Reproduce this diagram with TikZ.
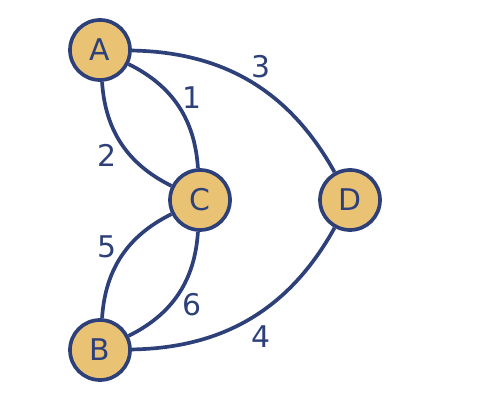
\documentclass[tikz,border=0pt]{standalone}
\usepackage{fontspec}
\setmainfont{DejaVu Sans}
\definecolor{bridgeblue}{RGB}{46,64,122}
\definecolor{landfill}{RGB}{233,195,115}
\tikzset{
  land/.style={circle, draw=bridgeblue, fill=landfill, line width=2.1pt,
    minimum size=1.2cm, inner sep=0pt, text=bridgeblue, font=\fontsize{17}{20}\selectfont},
  bridge/.style={draw=bridgeblue, line width=2.1pt},
  bridgelabel/.style={text=bridgeblue, font=\fontsize{17}{20}\selectfont}
}
\begin{document}
\begin{tikzpicture}
        \useasboundingbox (0,0) rectangle (10,8);
        \node[land] at (2,7) (a) {A};
        \node[land] at (4,4) (c) {C};
        \node[land] at (7,4) (d) {D};
        \node[land] at (2,1) (b) {B};

        \draw[bridge] (a) to[bend left=30] (c);
        \draw[bridge] (a) to[bend right=30] (c);
        \draw[bridge] (a) to[bend left=30] (d);
        \draw[bridge] (b) to[bend right=30] (d);
        \draw[bridge] (b) to[bend left=30] (c);
        \draw[bridge] (b) to[bend right=30] (c);

        \node[bridgelabel] at (3.84,6.04) (l1) {1};
        \node[bridgelabel] at (2.14,4.9) (l2) {2};
        \node[bridgelabel] at (5.22,6.66) (l3) {3};
        \node[bridgelabel] at (5.22,1.26) (l4) {4};
        \node[bridgelabel] at (2.14,3.06) (l5) {5};
        \node[bridgelabel] at (3.84,1.9) (l6) {6};
    \end{tikzpicture}
\end{document}
